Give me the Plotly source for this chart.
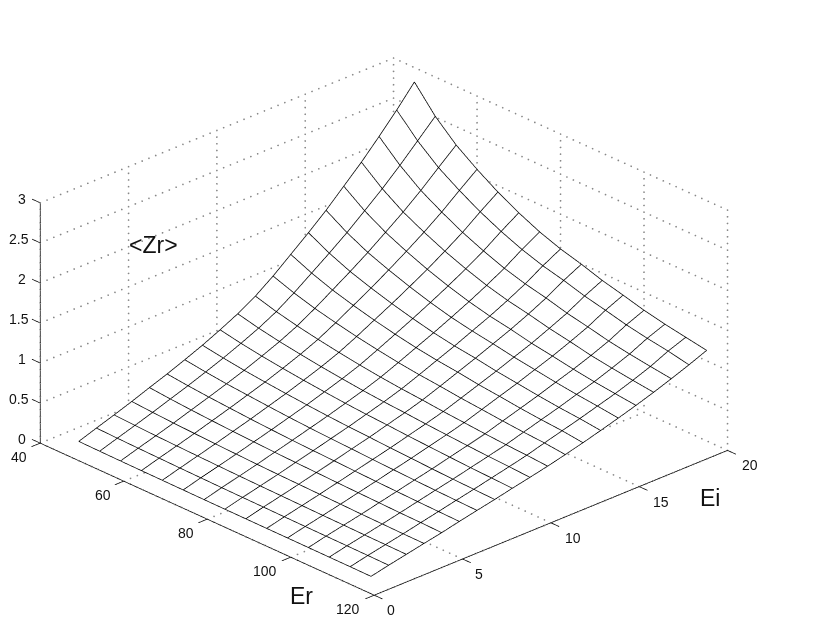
import plotly.graph_objects as go

ER = [45, 50, 55, 60, 65, 70, 75, 80, 85, 90, 95, 100, 105, 110, 115]
EI = list(range(1, 21))
Z = [
 [.05,.126,.20,.277,.36,.44,.527,.618,.72,.83,.96,1.12,1.30,1.48,1.67,1.88,2.09,2.32,2.56,2.82],
 [.046,.118,.188,.26,.337,.412,.493,.577,.67,.769,.885,1.028,1.186,1.344,1.51,1.692,1.877,2.079,2.294,2.51],
 [.043,.112,.177,.245,.318,.389,.464,.542,.629,.72,.825,.953,1.093,1.233,1.381,1.542,1.705,1.884,2.079,2.27],
 [.041,.107,.169,.234,.302,.37,.442,.514,.595,.68,.776,.893,1.019,1.146,1.281,1.423,1.572,1.733,1.912,2.085],
 [.039,.102,.162,.223,.288,.352,.421,.489,.565,.643,.732,.839,.954,1.069,1.191,1.318,1.453,1.598,1.764,1.92],
 [.037,.098,.155,.214,.276,.337,.402,.467,.539,.612,.693,.793,.897,1.002,1.112,1.228,1.352,1.485,1.638,1.78],
 [.035,.094,.149,.205,.265,.324,.386,.447,.515,.583,.66,.752,.848,.943,1.045,1.151,1.264,1.387,1.531,1.66],
 [.034,.091,.144,.198,.256,.313,.373,.431,.496,.561,.633,.719,.809,.897,.994,1.089,1.195,1.311,1.446,1.566],
 [.033,.089,.14,.193,.249,.305,.363,.419,.482,.544,.612,.694,.779,.863,.952,1.043,1.143,1.253,1.382,1.494],
 [.032,.086,.136,.187,.241,.295,.35,.404,.464,.523,.587,.664,.742,.82,.905,.987,1.083,1.183,1.306,1.41],
 [.031,.084,.132,.182,.234,.286,.34,.393,.45,.506,.567,.641,.715,.787,.867,.946,1.035,1.13,1.247,1.345],
 [.03,.082,.129,.176,.228,.278,.33,.38,.436,.489,.546,.616,.684,.753,.828,.901,.982,1.072,1.183,1.275],
 [.029,.08,.125,.172,.221,.271,.321,.37,.423,.475,.529,.595,.66,.724,.795,.863,.943,1.028,1.134,1.22],
 [.028,.078,.123,.168,.217,.265,.314,.362,.413,.463,.516,.579,.641,.702,.768,.833,.909,.991,1.093,1.175],
 [.026,.075,.12,.166,.21,.26,.307,.353,.403,.449,.498,.552,.61,.672,.737,.805,.878,.957,1.04,1.13],
]
ER_TICKS = [40, 60, 80, 100, 120]
EI_TICKS = [0, 5, 10, 15, 20]
Z_TICKS = [0, 0.5, 1, 1.5, 2, 2.5, 3]
Z_LABELS = ["0", "0.5", "1", "1.5", "2", "2.5", "3"]
FONT = "Liberation Sans"
INK = "#111111"

dx, dy, dz = [], [], []
def dotted(a, b, n):
    for k in range(n + 1):
        t = k / n
        dx.append(a[0] + (b[0] - a[0]) * t)
        dy.append(a[1] + (b[1] - a[1]) * t)
        dz.append(a[2] + (b[2] - a[2]) * t)
for e in ER_TICKS:
    dotted((e, 0, 0), (e, 20, 0), 52)
    dotted((e, 20, 0), (e, 20, 3), 36)
for i in EI_TICKS:
    dotted((40, i, 0), (120, i, 0), 52)
    dotted((40, i, 0), (40, i, 3), 36)
for z in Z_TICKS:
    dotted((40, 0, z), (40, 20, z), 52)
    dotted((40, 20, z), (120, 20, z), 52)

ax, ay, az = [], [], []
def seg(a, b):
    ax.extend([a[0], b[0], None]); ay.extend([a[1], b[1], None]); az.extend([a[2], b[2], None])
seg((40, 0, 0), (120, 0, 0))
seg((120, 0, 0), (120, 20, 0))
seg((40, 0, 0), (40, 0, 3))
for e in ER_TICKS:
    seg((e, 0, 0), (e, -0.5, 0))
for i in EI_TICKS:
    seg((120, i, 0), (122, i, 0))
for z in Z_TICKS:
    seg((40, 0, z), (38, 0, z))

mx, my, mz = [], [], []
for j, e in enumerate(ER):
    mx += [e] * len(EI) + [None]
    my += EI + [None]
    mz += Z[j] + [None]
for i, v in enumerate(EI):
    mx += ER + [None]
    my += [v] * len(ER) + [None]
    mz += [r[i] for r in Z] + [None]

fig = go.Figure()
fig.add_trace(go.Scatter3d(x=dx, y=dy, z=dz, mode="markers", hoverinfo="skip", showlegend=False,
                           marker=dict(color="#888888", size=1, line=dict(width=0))))
fig.add_trace(go.Scatter3d(x=ax, y=ay, z=az, mode="lines", hoverinfo="skip", showlegend=False,
                           line=dict(color="#000000", width=1.5)))
# white fill sits a hair under the mesh lines so that they are not half hidden by it
fig.add_trace(go.Surface(
    x=ER, y=EI, z=[[Z[j][i] - 0.006 for j in range(len(ER))] for i in range(len(EI))],
    colorscale=[[0, "white"], [1, "white"]], showscale=False,
    lighting=dict(ambient=1, diffuse=0, specular=0, roughness=1, fresnel=0),
    hoverinfo="skip",
))
fig.add_trace(go.Scatter3d(x=mx, y=my, z=mz, mode="lines", hoverinfo="skip", showlegend=False,
                           line=dict(color="#000000", width=1.5)))

def axis(rng):
    return dict(range=rng, showgrid=False, showbackground=False, zeroline=False, showline=False,
                ticks="", showticklabels=False, title=dict(text=""), showspikes=False)

def label(x, y, z, text, xs, ys, size=14):
    return dict(x=x, y=y, z=z, text=text, showarrow=False, xshift=xs, yshift=ys,
                xanchor="center", yanchor="middle",
                font=dict(family=FONT, size=size, color=INK))

ann = []
for e in ER_TICKS:
    ann.append(label(e, 0, 0, str(e), -26 if e >= 100 else -21, -14))
for i in EI_TICKS:
    ann.append(label(120, i, 0, str(i), 22 if i >= 10 else 16.5, -15))
for z, t in zip(Z_TICKS, Z_LABELS):
    ann.append(label(40, 0, z, t, -21.5 if len(t) > 1 else -18, 4))

# the page adds 8 px round the plot, so paper positions are 8 px less than picture positions
def title(text, px, py):
    return dict(text=text, x=(px - 8)/817, y=1-(py - 8)/624, xref="paper", yref="paper", showarrow=False,
                xanchor="center", yanchor="middle", font=dict(family=FONT, size=23, color=INK))

fig.update_layout(
    width=817, height=624, margin=dict(l=0, r=0, t=0, b=0), paper_bgcolor="white",
    font=dict(family=FONT),
    scene=dict(
        domain=dict(x=[0, 1], y=[0, 1]),
        aspectmode="manual", aspectratio=dict(x=1.633, y=1.717, z=0.854),
        camera=dict(projection=dict(type="orthographic"),
                    up=dict(x=0, y=0, z=1),
                    eye=dict(x=2.028, y=-1.780, z=1.315),
                    center=dict(x=0.0652, y=0.0823, z=0.019)),
        xaxis=axis([38, 122]),
        yaxis=axis([-1, 21]),
        zaxis=axis([0, 3]),
        annotations=ann,
    ),
    annotations=[title("Er", 301.5, 596), title("Ei", 710, 497.5), title("&lt;Zr&gt;", 153, 245)],
)
fig.write_html("out.html")
